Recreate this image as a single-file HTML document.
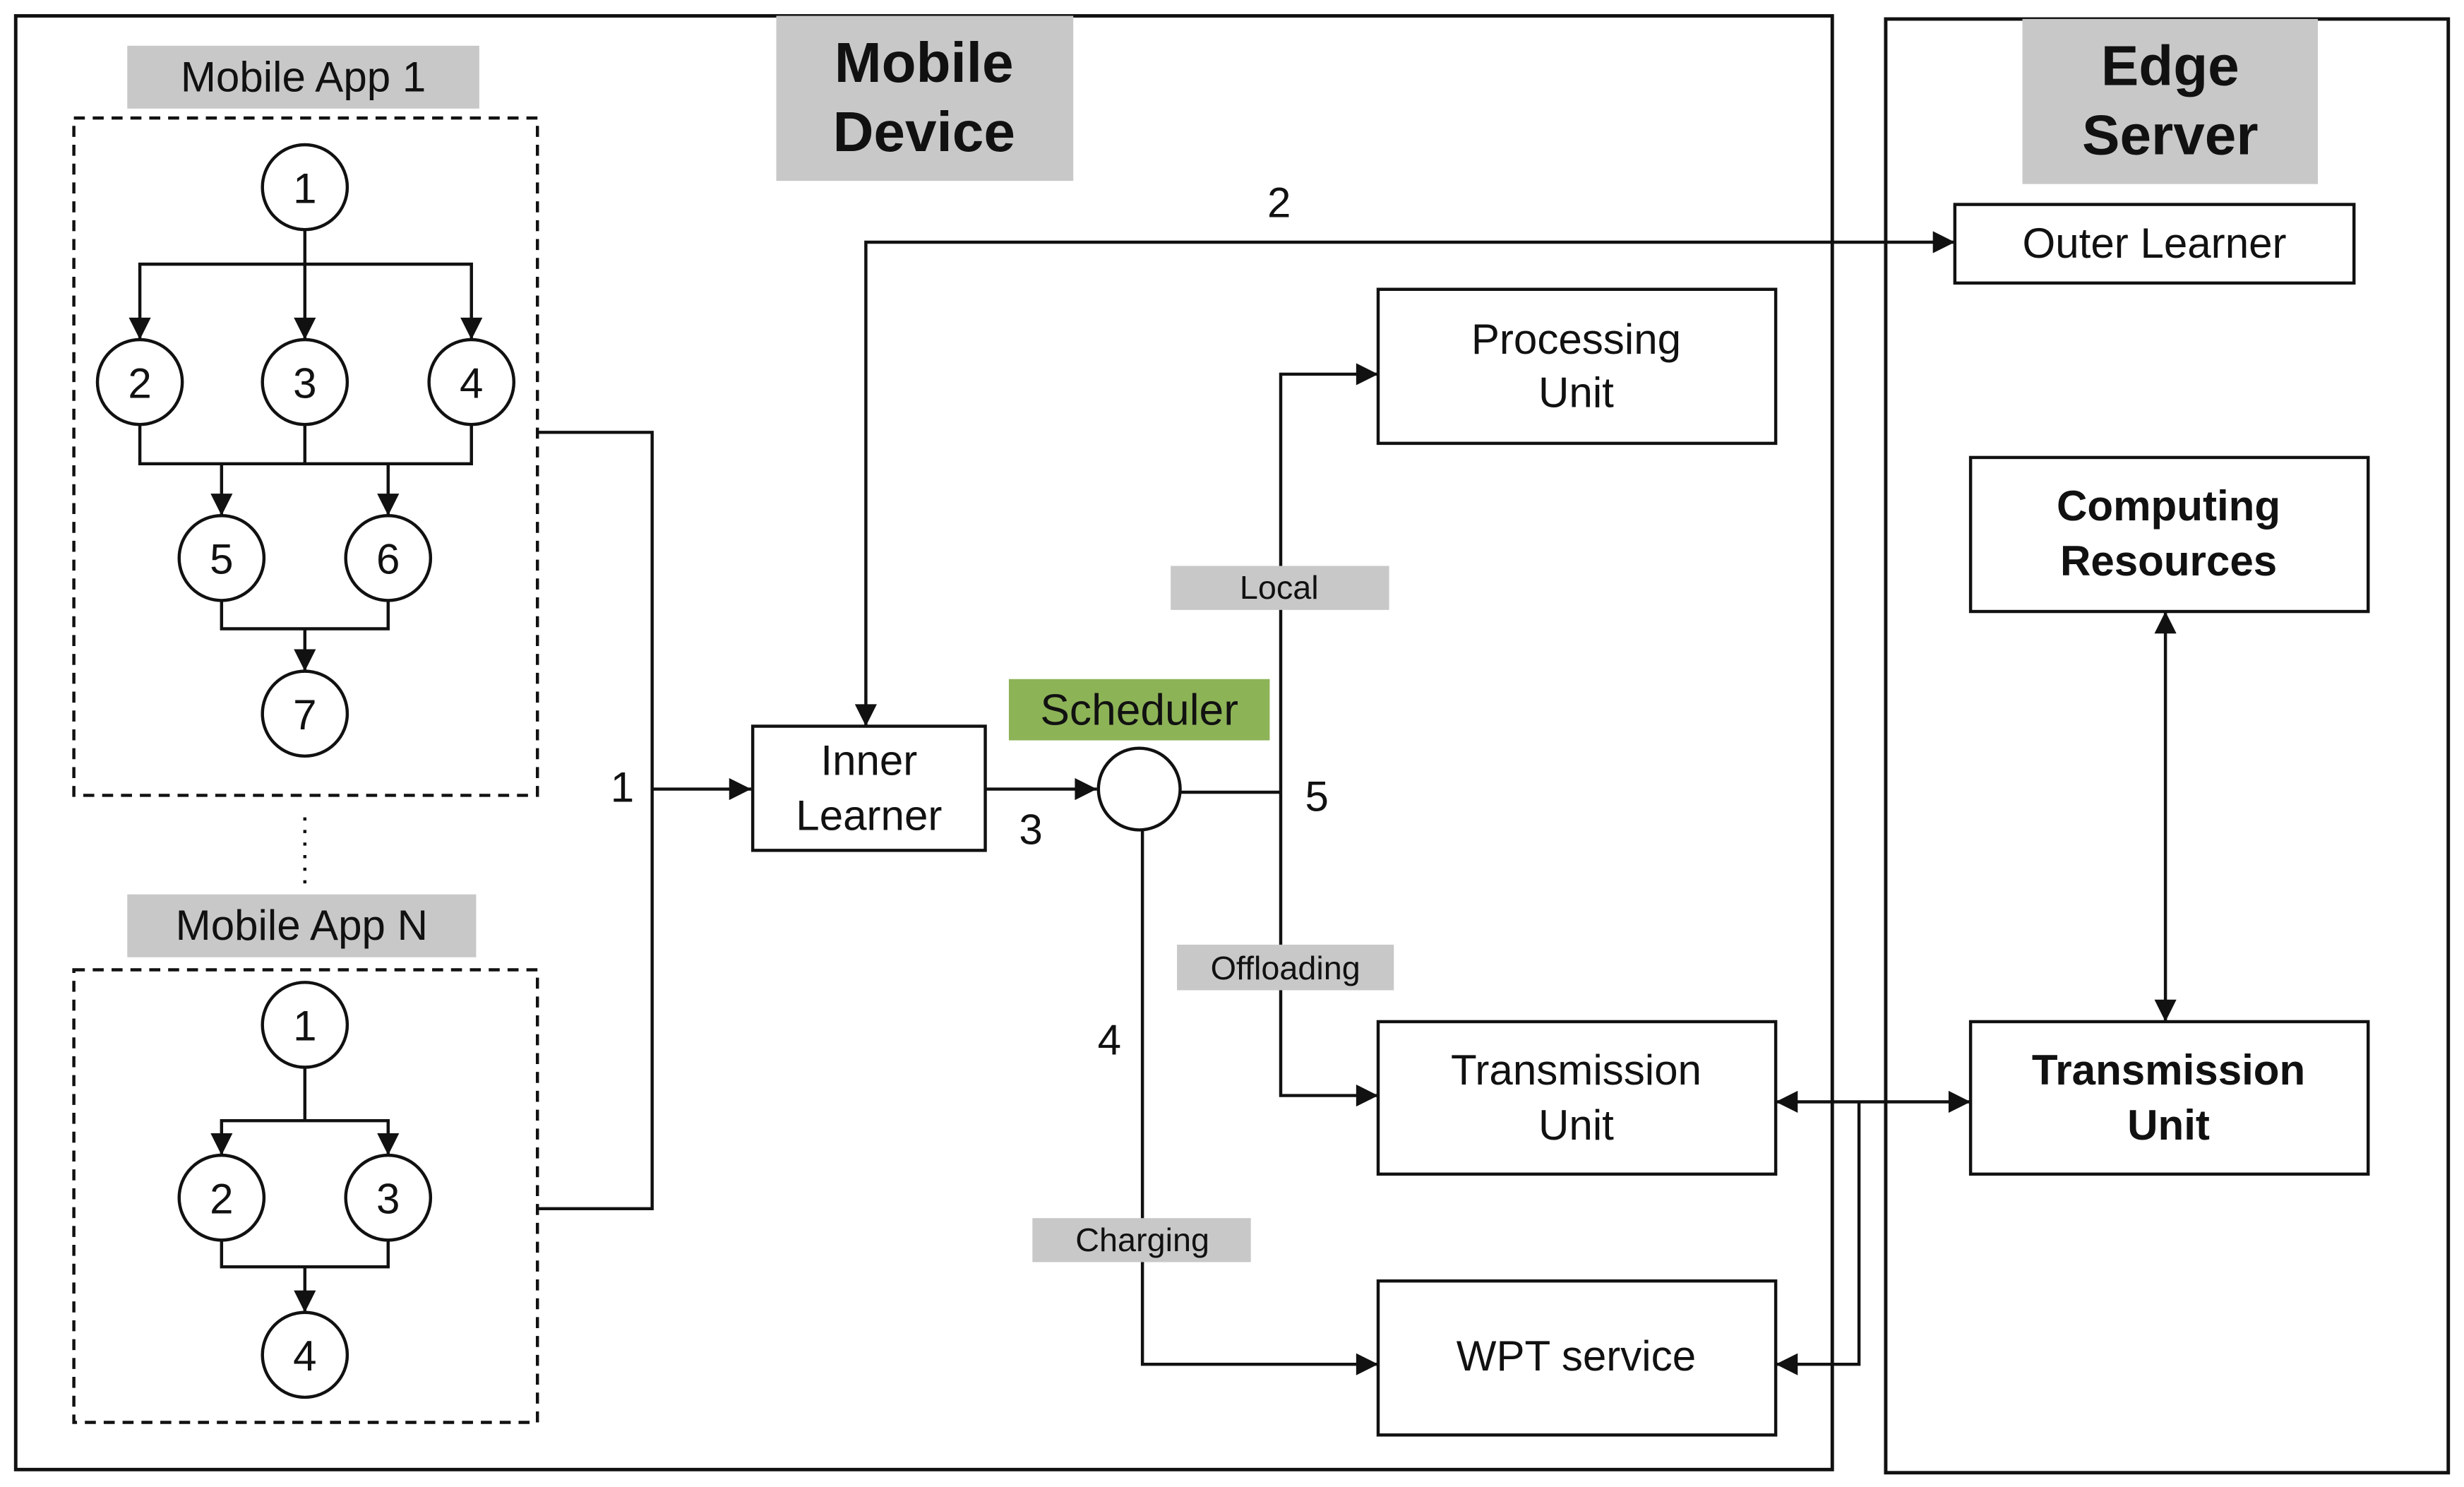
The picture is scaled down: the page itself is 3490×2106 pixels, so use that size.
<!DOCTYPE html>
<html><head><meta charset="utf-8"><style>
html,body{margin:0;padding:0;background:#fff}
svg{display:block}
text{font-family:"Liberation Sans",sans-serif;fill:#111}
</style></head><body>
<svg width="3490" height="2106" viewBox="0 0 1568 946" xmlns="http://www.w3.org/2000/svg">
<defs>
<marker id="b" viewBox="0 0 10 10" refX="10" refY="5" markerWidth="15" markerHeight="14" orient="auto-start-reverse" markerUnits="userSpaceOnUse"><path d="M0,0 L10,5 L0,10 z" fill="#111"/></marker>
</defs>
<g fill="none" stroke="#111" stroke-width="2.2">
<rect x="10" y="10" width="1156" height="925"/>
<rect x="1200" y="12" width="358" height="925"/>
</g>
<rect x="494" y="10" width="189" height="105" fill="#c8c8c8"/>
<rect x="1287" y="12" width="188" height="105" fill="#c8c8c8"/>
<text x="588" y="52" font-size="36" font-weight="bold" text-anchor="middle">Mobile</text>
<text x="588" y="96" font-size="36" font-weight="bold" text-anchor="middle">Device</text>
<text x="1381" y="54" font-size="36" font-weight="bold" text-anchor="middle">Edge</text>
<text x="1381" y="98" font-size="36" font-weight="bold" text-anchor="middle">Server</text>
<rect x="81" y="29" width="224" height="40" fill="#c8c8c8"/>
<text x="193" y="58" font-size="27" text-anchor="middle">Mobile App 1</text>
<rect x="81" y="569" width="222" height="40" fill="#c8c8c8"/>
<text x="192" y="598" font-size="27" text-anchor="middle">Mobile App N</text>
<g fill="none" stroke="#111" stroke-width="2" stroke-dasharray="7,5">
<rect x="47" y="75" width="295" height="431"/>
<rect x="47" y="617" width="295" height="288"/>
</g>
<line x1="194" y1="520" x2="194" y2="566" stroke="#111" stroke-width="2" stroke-dasharray="2,6"/>
<g fill="none" stroke="#111" stroke-width="2">
<line x1="194" y1="146" x2="194" y2="216" marker-end="url(#b)"/>
<polyline points="89,216 89,168 300,168 300,216" marker-start="url(#b)" marker-end="url(#b)"/>
<polyline points="89,270 89,295 300,295 300,270"/>
<line x1="194" y1="270" x2="194" y2="295"/>
<line x1="141" y1="295" x2="141" y2="328" marker-end="url(#b)"/>
<line x1="247" y1="295" x2="247" y2="328" marker-end="url(#b)"/>
<polyline points="141,382 141,400 247,400 247,382"/>
<line x1="194" y1="400" x2="194" y2="427" marker-end="url(#b)"/>
<line x1="194" y1="679" x2="194" y2="713"/>
<polyline points="141,735 141,713 247,713 247,735" marker-start="url(#b)" marker-end="url(#b)"/>
<polyline points="141,789 141,806 247,806 247,789"/>
<line x1="194" y1="806" x2="194" y2="835" marker-end="url(#b)"/>
<polyline points="342,275 415,275 415,769 342,769"/>
<line x1="415" y1="502" x2="478" y2="502" marker-end="url(#b)"/>
<line x1="627" y1="502" x2="698" y2="502" marker-end="url(#b)"/>
<line x1="751" y1="504" x2="815" y2="504"/>
<polyline points="877,238 815,238 815,697 877,697" marker-start="url(#b)" marker-end="url(#b)"/>
<polyline points="727,528 727,868 877,868" marker-end="url(#b)"/>
<polyline points="1244,154 551,154 551,462" marker-start="url(#b)" marker-end="url(#b)"/>
<line x1="1378" y1="389" x2="1378" y2="650" marker-start="url(#b)" marker-end="url(#b)"/>
<line x1="1130" y1="701" x2="1254" y2="701" marker-start="url(#b)" marker-end="url(#b)"/>
<polyline points="1183,701 1183,868 1130,868" marker-end="url(#b)"/>
</g>
<g fill="#fff" stroke="#111" stroke-width="2">
<circle cx="194" cy="119" r="27"/><circle cx="89" cy="243" r="27"/><circle cx="194" cy="243" r="27"/><circle cx="300" cy="243" r="27"/>
<circle cx="141" cy="355" r="27"/><circle cx="247" cy="355" r="27"/><circle cx="194" cy="454" r="27"/>
<circle cx="194" cy="652" r="27"/><circle cx="141" cy="762" r="27"/><circle cx="247" cy="762" r="27"/><circle cx="194" cy="862" r="27"/>
<circle cx="725" cy="502" r="26"/>
<rect x="479" y="462" width="148" height="79"/>
<rect x="877" y="184" width="253" height="98"/>
<rect x="877" y="650" width="253" height="97"/>
<rect x="877" y="815" width="253" height="98"/>
<rect x="1244" y="130" width="254" height="50"/>
<rect x="1254" y="291" width="253" height="98"/>
<rect x="1254" y="650" width="253" height="97"/>
</g>
<g font-size="27" text-anchor="middle">
<text x="194" y="129">1</text><text x="89" y="253">2</text><text x="194" y="253">3</text><text x="300" y="253">4</text>
<text x="141" y="365">5</text><text x="247" y="365">6</text><text x="194" y="464">7</text>
<text x="194" y="662">1</text><text x="141" y="772">2</text><text x="247" y="772">3</text><text x="194" y="872">4</text>
<text x="396" y="510">1</text><text x="656" y="537">3</text><text x="838" y="516">5</text><text x="706" y="671">4</text><text x="814" y="138">2</text>
<text x="553" y="493">Inner</text><text x="553" y="528">Learner</text>
<text x="1003" y="225">Processing</text><text x="1003" y="259">Unit</text>
<text x="1003" y="690">Transmission</text><text x="1003" y="725">Unit</text>
<text x="1003" y="872">WPT service</text>
<text x="1371" y="164">Outer Learner</text>
<text x="1380" y="331" font-weight="bold">Computing</text><text x="1380" y="366" font-weight="bold">Resources</text>
<text x="1380" y="690" font-weight="bold">Transmission</text><text x="1380" y="725" font-weight="bold">Unit</text>
</g>
<rect x="642" y="432" width="166" height="39" fill="#8db357"/>
<text x="725" y="461" font-size="28" text-anchor="middle">Scheduler</text>
<rect x="745" y="360" width="139" height="28" fill="#c8c8c8"/>
<rect x="749" y="601" width="138" height="29" fill="#c8c8c8"/>
<rect x="657" y="775" width="139" height="28" fill="#c8c8c8"/>
<g font-size="21" text-anchor="middle">
<text x="814" y="381">Local</text><text x="818" y="623">Offloading</text><text x="727" y="796">Charging</text>
</g>
</svg>
</body></html>
